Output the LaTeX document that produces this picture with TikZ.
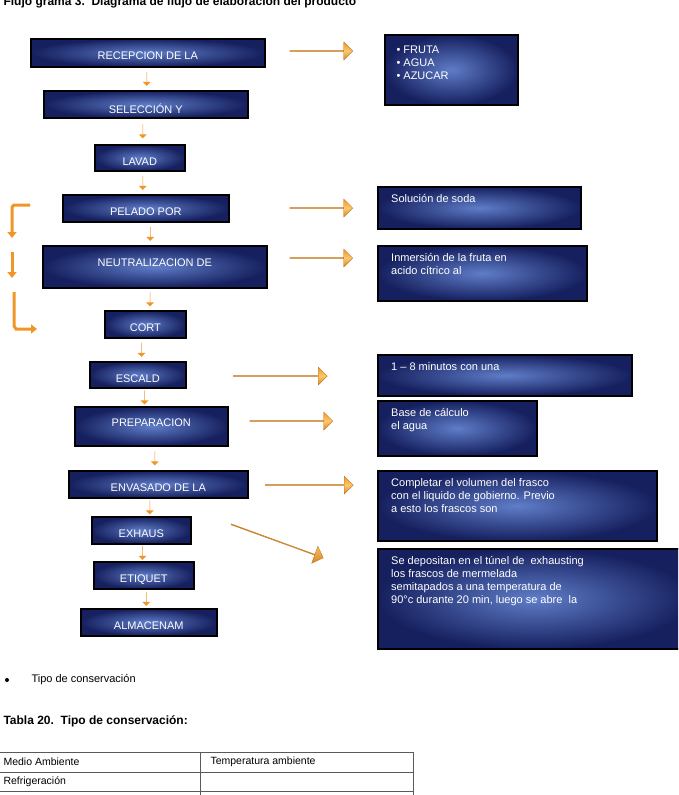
\documentclass[tikz,border=0pt]{standalone}
\usepackage{fontspec}
\setmainfont{Liberation Sans}
\usetikzlibrary{shapes.arrows,arrows.meta,calc}
\definecolor{boxdark}{RGB}{22,32,95}
\definecolor{boxlight}{RGB}{95,125,200}
\definecolor{arrorange}{RGB}{240,150,40}
\definecolor{arrlight}{RGB}{252,200,110}
\tikzset{
  stage/.style={draw=black, line width=1.6pt, inner color=boxlight, outer color=boxdark,
    anchor=north west, inner sep=0pt},
  label text/.style={text=white, font=\fontsize{11}{13}\selectfont},
  fat/.style={single arrow, draw=arrorange!80!black, thin, top color=arrorange, bottom color=arrorange!90!black,
    middle color=arrlight, single arrow head extend=4pt, minimum width=18pt, inner sep=0pt},
  tiny/.style={single arrow, shape border rotate=270, fill=arrorange, single arrow head extend=3pt,
    minimum height=14pt, minimum width=8pt, inner sep=0pt},
  loop arrow/.style={draw=arrorange, line width=3pt, -{Triangle[length=6pt,width=9pt]}}
}
\begin{document}
\begin{tikzpicture}[x=1pt,y=-1pt]
\useasboundingbox (0,0) rectangle (678,795);

% title
\node[anchor=west, font=\bfseries\fontsize{12}{14}\selectfont] (title) at (0,2) {Flujo grama 3.\ \ Diagrama de flujo de elaboración del producto};

% main steps
\begin{scope}
\clip (0,30) rectangle (678,650);
\foreach \nm/\xa/\ya/\xb/\yb/\txt in {
  rec/30/38/264/66/RECEPCION DE LA,
  sel/43/90/247/117/SELECCIÓN Y,
  lav/94/144/184/170/LAVAD,
  pel/62/194/228/221/PELADO POR,
  cor/104/310/185/337/CORT,
  esc/89/361/185/387/ESCALD,
  env/68/470/247/497/ENVASADO DE LA,
  exh/91/516/190/543/EXHAUS,
  eti/93/561/193/588/ETIQUET,
  alm/80/608/216/635/ALMACENAM}{
  \node[stage, minimum width=\xb-\xa, minimum height=\yb-\ya] (\nm) at (\xa,\ya) {};
  \begin{scope}
    \clip (\xa,\ya) rectangle (\xb,\yb-2);
    \node[label text, anchor=north] at ($(\nm.north)+(0,10)$) {\txt};
  \end{scope}
}
% two-line steps
\node[stage, minimum width=224, minimum height=42] (neu) at (42,245) {};
\begin{scope}
  \clip (42,245) rectangle (266,285);
  \node[label text, anchor=north] at ($(neu.north)+(0,10)$) {NEUTRALIZACION DE};
\end{scope}
\node[stage, minimum width=153, minimum height=39] (pre) at (74,406) {};
\begin{scope}
  \clip (74,406) rectangle (227,443);
  \node[label text, anchor=north] at ($(pre.north)+(0,9)$) {PREPARACION};
\end{scope}

% notes
\node[stage, minimum width=133, minimum height=70] (ing) at (384,34) {};
\node[label text, anchor=north west, align=left] at (393,42) {• FRUTA\\• AGUA\\• AZUCAR};
\foreach \nm/\xa/\ya/\xb/\yb/\txt in {
  sod/377/186/580/228/{Solución de soda},
  inm/377/245/586/300/{Inmersión de la fruta en\\acido cítrico al},
  min/377/354/631/395/{1 – 8 minutos con una},
  bas/377/400/536/455/{Base de cálculo\\el agua},
  com/377/470/656/540/{Completar el volumen del frasco\\con el liquido de gobierno. Previo\\a esto los frascos son},
  dep/377/548/690/648/{Se depositan en el túnel de\ \ exhausting\\los frascos de mermelada\\semitapados a una temperatura de\\90°c durante 20 min, luego se abre\ \ la}}{
  \node[stage, minimum width=\xb-\xa, minimum height=\yb-\ya] (\nm) at (\xa,\ya) {};
  \node[label text, anchor=north west, align=left, inner sep=0pt] at (391,\ya+8) {\txt};
}
\end{scope}

% fat arrows to notes
\node[fat, minimum height=63] (a1) at (321,51) {};
\node[fat, minimum height=63] (a2) at (321,208) {};
\node[fat, minimum height=63] (a3) at (321,258) {};
\node[fat, minimum height=94] (a4) at (280,376) {};
\node[fat, minimum height=83] (a5) at (291,421) {};
\node[fat, minimum height=88] (a6) at (309,485) {};
\node[fat, minimum height=98, rotate=-20] (a7) at (277,541) {};

% small arrows between steps
\foreach \a/\b in {rec/sel, sel/lav, lav/pel, pel/neu, neu/cor, cor/esc, esc/pre, pre/env, env/exh, exh/eti, eti/alm}{
  \node[tiny] at ($(\a.south)!0.5!(\b.north)$ -| 138,0) {};
}

% side loop
\draw[loop arrow] (30,205) -- (14,205) -- (12,207) -- (12,238);
\draw[loop arrow] (12,252) -- (12,278);
\draw[loop arrow] (14,292) -- (14,326) -- (16,329) -- (37,329);

% text below
\node[anchor=west, font=\fontsize{11}{13}\selectfont] (bul) at (28,680) {Tipo de conservación};
\fill (7,680) circle (2pt);
\node[anchor=west, font=\bfseries\fontsize{12}{14}\selectfont] (tab) at (0,721) {Tabla 20.\ \ Tipo de conservación:};

% table
\draw[gray!70!black] (0,752) -- (413,752) (0,772) -- (413,772) (0,791) -- (413,791)
  (200,752) -- (200,795) (413,752) -- (413,795);
\node[anchor=west, font=\fontsize{10.5}{12}\selectfont] at (0,762) {Medio Ambiente};
\node[anchor=west, font=\fontsize{10.5}{12}\selectfont] at (207,762) {Temperatura ambiente};
\node[anchor=west, font=\fontsize{10.5}{12}\selectfont] at (0,782) {Refrigeración};
\end{tikzpicture}
\end{document}
